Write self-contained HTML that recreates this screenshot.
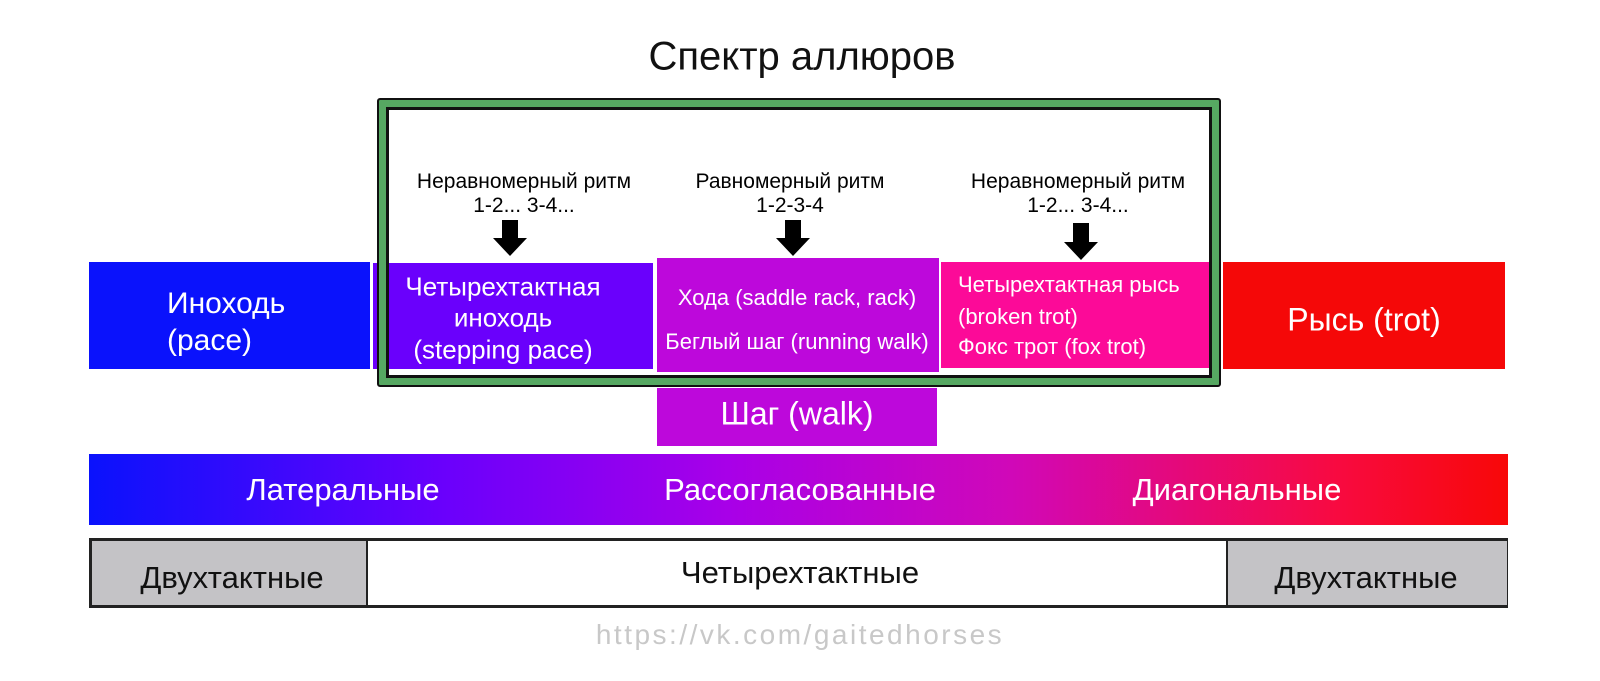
<!DOCTYPE html>
<html><head><meta charset="utf-8"><style>
body{margin:0;width:1600px;height:681px;background:#fff;position:relative;overflow:hidden;font-family:"Liberation Sans","DejaVu Sans",sans-serif;}
.a{position:absolute;}
.t{position:absolute;white-space:nowrap;transform:translate(-50%,-50%);}
.tl{position:absolute;white-space:nowrap;transform:translateY(-50%);}
.w{color:#fff;}
</style></head><body>
<div class="t" style="left:802px;top:57px;font-size:40px;color:#111;">Спектр аллюров</div>

<div class="a" style="left:89px;top:262px;width:281px;height:107px;background:#0a12fc;"></div>
<div class="a" style="left:373px;top:263px;width:280px;height:106px;background:#6a00fc;"></div>
<div class="a" style="left:657px;top:258px;width:282px;height:114px;background:#bd08db;"></div>
<div class="a" style="left:941px;top:262px;width:270px;height:106px;background:#fc0a98;"></div>
<div class="a" style="left:1223px;top:262px;width:282px;height:107px;background:#f50808;"></div>
<div class="a" style="left:657px;top:388px;width:280px;height:58px;background:#bd08db;"></div>

<div class="a" style="left:377px;top:98px;width:844px;height:289px;box-sizing:border-box;border:2px solid #111;border-radius:3px;box-shadow:inset 0 0 0 7px #56a862, inset 0 0 0 10px #111;"></div>

<div class="t" style="left:524px;top:182px;font-size:21px;">Неравномерный ритм</div>
<div class="t" style="left:524px;top:206px;font-size:21px;">1-2... 3-4...</div>
<div class="t" style="left:790px;top:182px;font-size:21px;">Равномерный ритм</div>
<div class="t" style="left:790px;top:206px;font-size:21px;">1-2-3-4</div>
<div class="t" style="left:1078px;top:182px;font-size:21px;">Неравномерный ритм</div>
<div class="t" style="left:1078px;top:206px;font-size:21px;">1-2... 3-4...</div>

<svg class="a" style="left:0;top:0" width="1600" height="681">
<polygon points="502,220 518,220 518,238 527,238 510,256 493,238 502,238" fill="#000"/>
<polygon points="785,220 801,220 801,238 810,238 793,256 776,238 785,238" fill="#000"/>
<polygon points="1073,223 1089,223 1089,242 1098,242 1081,260 1064,242 1073,242" fill="#000"/>
</svg>

<div class="tl w" style="left:167px;top:304px;font-size:30px;">Иноходь</div>
<div class="tl w" style="left:167px;top:341px;font-size:30px;">(pace)</div>
<div class="t w" style="left:503px;top:287px;font-size:26px;">Четырехтактная</div>
<div class="t w" style="left:503px;top:318px;font-size:26px;">иноходь</div>
<div class="t w" style="left:503px;top:350px;font-size:26px;">(stepping pace)</div>
<div class="t w" style="left:797px;top:298px;font-size:22px;">Хода (saddle rack, rack)</div>
<div class="t w" style="left:797px;top:342px;font-size:22px;">Беглый шаг (running walk)</div>
<div class="tl w" style="left:958px;top:285px;font-size:22px;">Четырехтактная рысь</div>
<div class="tl w" style="left:958px;top:317px;font-size:22px;">(broken trot)</div>
<div class="tl w" style="left:958px;top:347px;font-size:22px;">Фокс трот (fox trot)</div>
<div class="t w" style="left:1364px;top:320px;font-size:32px;">Рысь (trot)</div>
<div class="t w" style="left:797px;top:414px;font-size:32px;">Шаг (walk)</div>

<div class="a" style="left:89px;top:454px;width:1419px;height:71px;background:linear-gradient(90deg,#0a12fc 0%,#6a00fc 25%,#a800e8 45%,#d008b8 65%,#f80a40 88%,#f80808 100%);"></div>
<div class="t w" style="left:343px;top:490px;font-size:31px;">Латеральные</div>
<div class="t w" style="left:800px;top:490px;font-size:31px;">Рассогласованные</div>
<div class="t w" style="left:1237px;top:490px;font-size:31px;">Диагональные</div>

<div class="a" style="left:89px;top:538px;width:1419px;height:70px;border:3px solid #222;box-sizing:border-box;background:#fff;"></div>
<div class="a" style="left:92px;top:541px;width:274px;height:64px;background:#c4c3c6;border-right:2px solid #222;"></div>
<div class="a" style="left:1226px;top:541px;width:279px;height:64px;background:#c4c3c6;border-left:2px solid #222;"></div>
<div class="t" style="left:232px;top:578px;font-size:31px;color:#111;">Двухтактные</div>
<div class="t" style="left:800px;top:573px;font-size:31px;color:#111;">Четырехтактные</div>
<div class="t" style="left:1366px;top:578px;font-size:31px;color:#111;">Двухтактные</div>

<div class="t" style="left:800px;top:635px;font-size:28px;color:#c8c8c8;letter-spacing:2.5px;">https://vk.com/gaitedhorses</div>
</body></html>
